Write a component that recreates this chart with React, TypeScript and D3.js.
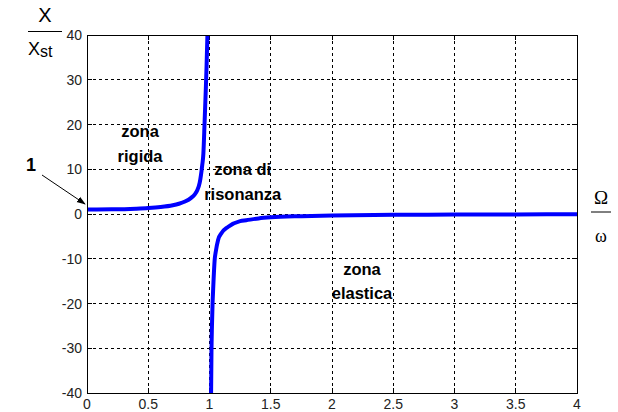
import React from "react";
import * as d3 from "d3";

// frequency ratio Omega/omega and amplification X/Xst
const ratioLow = [0, 0.2, 0.4, 0.5, 0.6, 0.7, 0.75, 0.8, 0.85, 0.88, 0.9, 0.92, 0.94, 0.95, 0.96, 0.97, 0.976, 0.983];
const ampLow = [1, 1.04, 1.19, 1.33, 1.56, 1.96, 2.29, 2.78, 3.6, 4.4, 5.3, 7, 10.8, 13.5, 20.5, 28, 33, 40];
const ratioHigh = [1.013, 1.016, 1.02, 1.025, 1.03, 1.043, 1.05, 1.07, 1.1, 1.15, 1.25, 1.3, 1.4, 1.5, 1.75, 2, 2.5, 3, 3.5, 4];
const ampHigh = [-40, -31, -25, -20, -16.7, -10, -8.6, -5.8, -4.2, -2.9, -1.6, -1.4, -1.0, -0.75, -0.48, -0.33, -0.19, -0.125, -0.09, -0.067];

const xTicks = [0, 0.5, 1, 1.5, 2, 2.5, 3, 3.5, 4];
const yTicks = [-40, -30, -20, -10, 0, 10, 20, 30, 40];

const zoneLabels = [
  { lines: ["zona", "rigida"], r: 0.433, v: 17.2 },
  { lines: ["zona di", "risonanza"], r: 1.271, v: 8.7 },
  { lines: ["zona", "elastica"], r: 2.245, v: -13.6 },
];

const App = () => {
  const width = 618;
  const height = 412;
  const m = { left: 87, top: 35, right: 577, bottom: 393 };

  const x = d3.scaleLinear().domain([0, 4]).range([m.left, m.right]);
  const y = d3.scaleLinear().domain([-40, 40]).range([m.bottom, m.top]);

  const line = d3
    .line<[number, number]>()
    .x(d => x(d[0]))
    .y(d => y(d[1]))
    .curve(d3.curveMonotoneX);

  const low = ratioLow.map((r, i) => [r, ampLow[i]] as [number, number]);
  const high = ratioHigh.map((r, i) => [r, ampHigh[i]] as [number, number]);

  const font = "Arial, 'Liberation Sans', sans-serif";

  return (
    <svg width={width} height={height} style={{ position: "fixed", left: 0, top: 0, background: "#fff" }}>
      <defs>
        <marker id="arrow" viewBox="0 0 10 10" refX="9" refY="5" markerWidth="9" markerHeight="9" orient="auto-start-reverse">
          <path d="M0,1.5 L10,5 L0,8.5 z" fill="#000" />
        </marker>
      </defs>
      <rect x={0} y={0} width={width} height={height} fill="#fff" />

      {/* grid */}
      <g stroke="#000" strokeWidth={1} strokeDasharray="3,3" shapeRendering="crispEdges">
        {xTicks.slice(1, -1).map(t => (
          <line key={"gx" + t} x1={x(t)} x2={x(t)} y1={m.top} y2={m.bottom} />
        ))}
        {yTicks.slice(1, -1).map(t => (
          <line key={"gy" + t} x1={m.left} x2={m.right} y1={y(t)} y2={y(t)} />
        ))}
      </g>

      {/* inward ticks */}
      <g stroke="#000" strokeWidth={1} shapeRendering="crispEdges">
        {xTicks.map(t => (
          <g key={"tx" + t}>
            <line x1={x(t)} x2={x(t)} y1={m.bottom} y2={m.bottom - 5} />
            <line x1={x(t)} x2={x(t)} y1={m.top} y2={m.top + 5} />
          </g>
        ))}
        {yTicks.map(t => (
          <g key={"ty" + t}>
            <line x1={m.left} x2={m.left + 5} y1={y(t)} y2={y(t)} />
            <line x1={m.right} x2={m.right - 5} y1={y(t)} y2={y(t)} />
          </g>
        ))}
      </g>

      {/* curve */}
      <g fill="none" stroke="#0000ff" strokeWidth={4} strokeLinejoin="round">
        <path d={line(low) ?? ""} />
        <path d={line(high) ?? ""} />
      </g>

      {/* box */}
      <rect x={m.left} y={m.top} width={m.right - m.left} height={m.bottom - m.top} fill="none" stroke="#000" strokeWidth={1} shapeRendering="crispEdges" />

      {/* tick labels */}
      <g fontFamily={font} fontSize={14} fill="#222">
        {xTicks.map(t => (
          <text key={"lx" + t} x={x(t)} y={m.bottom + 16} textAnchor="middle">{t}</text>
        ))}
        {yTicks.map(t => (
          <text key={"ly" + t} x={m.left - 5} y={y(t)} dy="0.36em" textAnchor="end">{t}</text>
        ))}
      </g>

      {/* zone labels */}
      <g fontFamily={font} fontSize={16.5} fontWeight="bold" fill="#000" textAnchor="middle">
        {zoneLabels.map((z, i) => (
          <text key={"z" + i} x={x(z.r)} y={y(z.v)}>
            {z.lines.map((l, j) => (
              <tspan key={j} x={x(z.r)} dy={j === 0 ? 0 : 24.5}>{l}</tspan>
            ))}
          </text>
        ))}
      </g>

      {/* "1" annotation */}
      <text x={31} y={171} fontFamily={font} fontSize={18} fontWeight="bold" textAnchor="middle">1</text>
      <line x1={42} y1={175} x2={85} y2={204} stroke="#000" strokeWidth={1} markerEnd="url(#arrow)" />

      {/* y axis label */}
      <g fontFamily={font} fill="#000">
        <text x={45} y={22} fontSize={20} textAnchor="middle">X</text>
        <line x1={28} x2={62} y1={31.5} y2={31.5} stroke="#000" strokeWidth={1} />
        <text x={28} y={55} fontSize={18}>X<tspan fontSize={16} dy={2}>st</tspan></text>
      </g>

      {/* x axis label */}
      <g fontFamily="'Times New Roman', 'Liberation Serif', serif" fill="#000" textAnchor="middle">
        <text x={601} y={204} fontSize={19}>Ω</text>
        <line x1={591} x2={611} y1={212} y2={212} stroke="#000" strokeWidth={1} />
        <text x={601} y={242} fontSize={18}>ω</text>
      </g>
    </svg>
  );
};

export default App;
